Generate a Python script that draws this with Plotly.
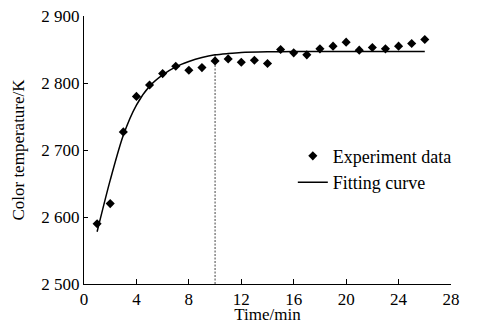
import plotly.graph_objects as go

time_exp = [1, 2, 3, 4, 5, 6, 7, 8, 9, 10, 11, 12, 13, 14, 15, 16, 17, 18, 19, 20, 21, 22, 23, 24, 25, 26]
temp_exp = [2590, 2620, 2727, 2780, 2797, 2814, 2825, 2819, 2823, 2833, 2836, 2831, 2834, 2829,
            2850, 2845, 2842, 2851, 2855, 2861, 2849, 2853, 2851, 2855, 2859, 2865]

time_fit = [1, 2, 3, 4, 5, 6, 7, 8, 9, 10, 11, 12, 14, 16, 18, 20, 22, 24, 26]
temp_fit = [2578, 2655, 2722, 2767, 2795, 2812, 2824, 2832, 2838, 2842, 2844, 2845.5, 2846.5, 2847, 2847, 2847, 2847, 2847, 2847]

marker_time = [10, 10]
marker_temp = [2500, 2842]

x_ticks = [0, 4, 8, 12, 16, 20, 24, 28]
y_ticks = [2500, 2600, 2700, 2800, 2900]
y_ticktext = ["2 500", "2 600", "2 700", "2 800", "2 900"]

FONT = "Liberation Serif"

fig = go.Figure()
fig.add_trace(go.Scatter(x=marker_time, y=marker_temp, mode="lines",
                         line=dict(color="#444", width=1, dash="2px,1.5px"),
                         showlegend=False, hoverinfo="skip"))
fig.add_trace(go.Scatter(x=time_exp, y=temp_exp, mode="markers", name="Experiment data",
                         marker=dict(symbol="diamond", size=7, color="black")))
fig.add_trace(go.Scatter(x=time_fit, y=temp_fit, mode="lines", name="Fitting curve",
                         line=dict(color="black", width=1.5, shape="spline", smoothing=0.8)))

fig.update_layout(
    width=471, height=316,
    margin=dict(l=76, r=28, t=8, b=40, autoexpand=False),
    paper_bgcolor="white", plot_bgcolor="white",
    font=dict(family=FONT, size=17, color="black"),
    legend=dict(x=0.569, y=0.546, xanchor="left", yanchor="top",
                bgcolor="rgba(0,0,0,0)", font=dict(family=FONT, size=18),
                tracegroupgap=0, itemwidth=30),
    xaxis=dict(range=[0, 28], tickvals=x_ticks, showline=True, linecolor="black", linewidth=1,
               ticks="inside", ticklen=5, tickcolor="black", showgrid=False, zeroline=False,
               automargin=False,
               title=dict(text="Time/min", font=dict(size=17))),
    yaxis=dict(range=[2500, 2900], tickvals=y_ticks, ticktext=y_ticktext, showline=True,
               linecolor="black", linewidth=1, ticks="inside", ticklen=4, tickcolor="black",
               showgrid=False, zeroline=False, automargin=False, ticklabeloverflow="allow",
               title=dict(text="Color temperature/K", standoff=12, font=dict(size=17))),
)

fig.write_html("out.html")
